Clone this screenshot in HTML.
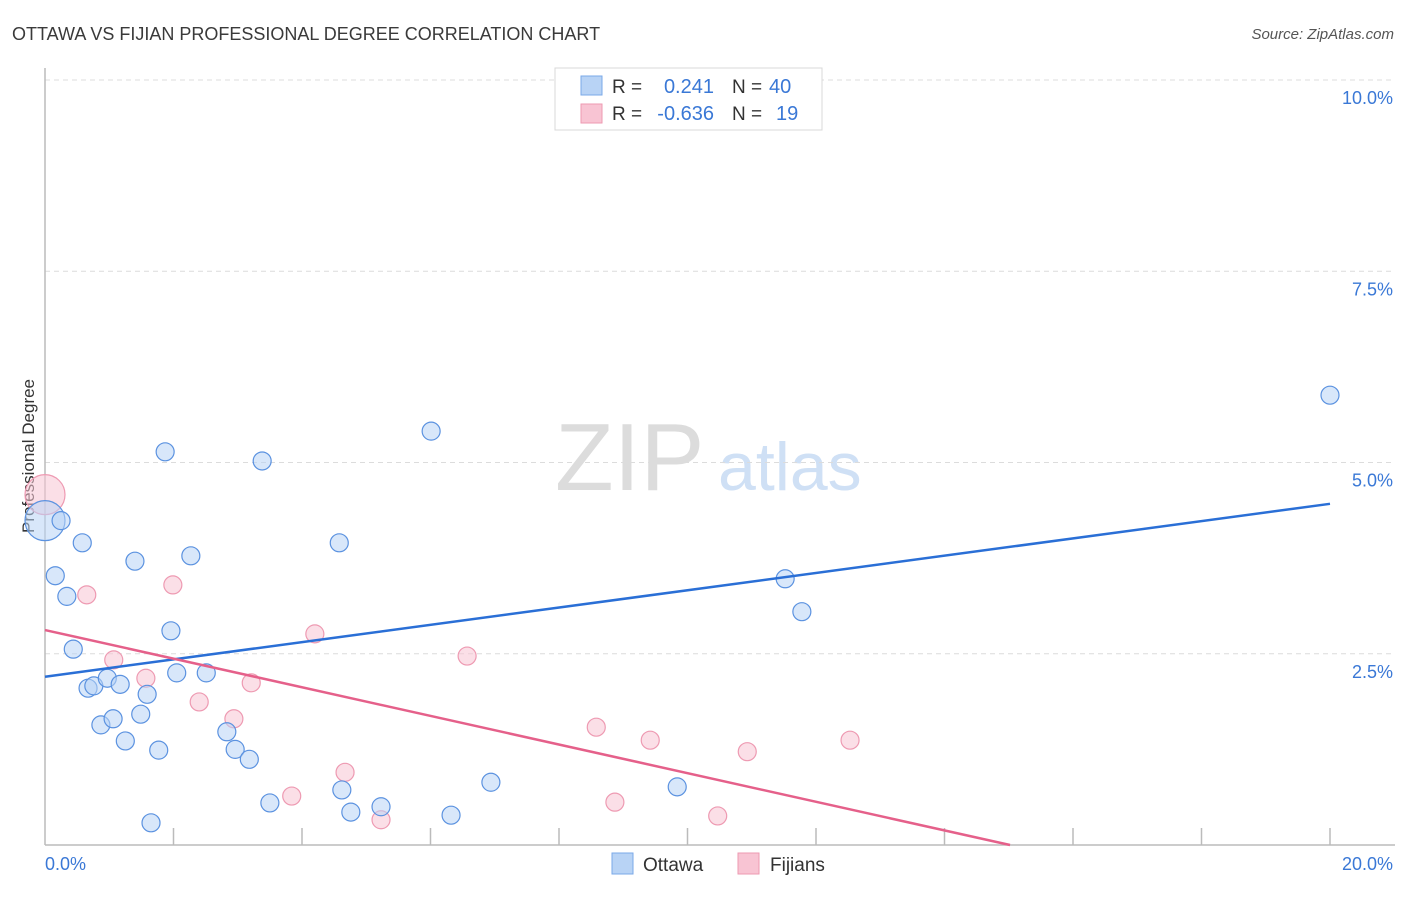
<!DOCTYPE html>
<html><head><meta charset="utf-8"><style>
body{margin:0;background:#fff;font-family:"Liberation Sans",sans-serif}
svg text{font-family:"Liberation Sans",sans-serif}
</style></head><body>
<svg id="chart" width="1406" height="892" viewBox="0 0 1406 892" xmlns="http://www.w3.org/2000/svg">
<text x="12" y="40" font-size="18" fill="#3a3a3a">OTTAWA VS FIJIAN PROFESSIONAL DEGREE CORRELATION CHART</text>
<text x="1394" y="39" font-size="15" fill="#555" text-anchor="end" font-style="italic">Source: ZipAtlas.com</text>
<text x="555" y="490" font-size="96" fill="#dcdcdc" font-family="Liberation Serif,serif">ZIP</text>
<text x="718" y="490" font-size="68" fill="#cfe0f5">atlas</text>
<g id="grid"></g>
<g id="axes"></g>
<text transform="translate(34,456) rotate(-90)" font-size="17" fill="#333" text-anchor="middle">Professional Degree</text>
<g id="marks"></g>
<g>
<rect x="555" y="68" width="267" height="62" fill="#fff" stroke="#d8d8d8"/>
<rect x="581" y="76" width="21" height="19" fill="#b8d3f5" stroke="#7aa8e8"/>
<rect x="581" y="104" width="21" height="19" fill="#f8c4d3" stroke="#ee9ab2"/>
<text x="612" y="93" font-size="19" fill="#333">R =</text>
<text x="714" y="93" font-size="20" fill="#3a78d6" text-anchor="end">0.241</text>
<text x="732" y="93" font-size="19" fill="#333">N =</text>
<text x="769" y="93" font-size="20" fill="#3a78d6">40</text>
<text x="612" y="120" font-size="19" fill="#333">R =</text>
<text x="714" y="120" font-size="20" fill="#3a78d6" text-anchor="end">-0.636</text>
<text x="732" y="120" font-size="19" fill="#333">N =</text>
<text x="776" y="120" font-size="20" fill="#3a78d6">19</text>
</g>
<g>
<rect x="612" y="853" width="21" height="21" fill="#b8d3f5" stroke="#7aa8e8"/>
<text x="643" y="871" font-size="19" fill="#333">Ottawa</text>
<rect x="738" y="853" width="21" height="21" fill="#f8c4d3" stroke="#ee9ab2"/>
<text x="770" y="871" font-size="19" fill="#333">Fijians</text>
</g>
</svg>
<script>
const xTicks=[0,2,4,6,8,10,12,14,16,18,20];
const yTicks=[2.5,5,7.5,10];
const yTickLabels=["2.5%","5.0%","7.5%","10.0%"];
const ottawaX=[0,0.25,0.58,0.16,0.34,0.44,0.67,0.76,0.97,1.17,1.59,0.87,1.06,1.49,1.25,1.77,1.65,1.87,1.40,2.27,1.96,2.05,2.51,2.83,2.96,3.18,3.38,3.50,4.58,4.62,4.76,5.23,6.01,6.32,6.94,9.84,11.52,11.78,20.0,8.33];
const ottawaY=[4.24,4.24,3.95,3.52,3.25,2.56,2.05,2.08,2.18,2.10,1.97,1.57,1.65,1.71,1.36,1.24,0.29,5.14,3.71,3.78,2.80,2.25,2.25,1.48,1.25,1.12,5.02,0.55,3.95,0.72,0.43,0.50,5.41,0.39,0.82,0.76,3.48,3.05,5.88,9.53];
const ottawaBig=[0];
const fijiX=[0,0.65,1.07,1.57,1.99,2.40,3.21,2.94,3.84,4.20,4.67,5.23,6.57,8.58,8.87,9.42,10.47,10.93,12.53];
const fijiY=[4.58,3.27,2.42,2.18,3.40,1.87,2.12,1.65,0.64,2.76,0.95,0.33,2.47,1.54,0.56,1.37,0.38,1.22,1.37];
const fijiBig=[0];
const ottawaTrend=[[0,2.20],[20,4.46]];
const fijiTrend=[[0,2.81],[15.02,0]];
const NS="http://www.w3.org/2000/svg";
const X0=45,X1=1330,Y0=845,YPX=76.5;
function sx(v){return X0+(X1-X0)*v/20;}
function sy(v){return Y0-v*YPX;}
function mk(tag,attrs,parent){const e=document.createElementNS(NS,tag);for(const k in attrs)e.setAttribute(k,attrs[k]);parent.appendChild(e);return e;}
const grid=document.getElementById('grid'),axes=document.getElementById('axes'),marks=document.getElementById('marks');
yTicks.forEach((t,i)=>{
 const l=mk('line',{x1:X0,x2:1395,y1:sy(t),y2:sy(t),stroke:'#dcdcdc','stroke-dasharray':'5,4'},grid);
 
 
 const tx=mk('text',{x:1393,y:sy(t)+24,'font-size':18,fill:'#3a78d6','text-anchor':'end'},axes);
 tx.textContent=yTickLabels[i];
 
 
});
let a=mk('line',{x1:X0,x2:X0,y1:68,y2:Y0,stroke:'#bbb','stroke-width':1.5},axes);


a=mk('line',{x1:X0,x2:1395,y1:Y0,y2:Y0,stroke:'#bbb','stroke-width':1.5},axes);


xTicks.forEach(t=>{
 if(t===0)return;
 const l=mk('line',{x1:sx(t),x2:sx(t),y1:828,y2:Y0,stroke:'#bbb','stroke-width':1.5},axes);
 
 
});
let t0=mk('text',{x:45,y:870,'font-size':18,fill:'#3a78d6'},axes);t0.textContent=xTicks[0].toFixed(1)+'%';


let t1=mk('text',{x:1393,y:870,'font-size':18,fill:'#3a78d6','text-anchor':'end'},axes);t1.textContent=xTicks[xTicks.length-1].toFixed(1)+'%';


function pts(xs,ys,big,fill,stroke,name){
 xs.forEach((x,i)=>{
  const r=big.includes(i)?20:9;
  const c=mk('circle',{cx:sx(x),cy:sy(ys[i]),r:r,fill:fill,'fill-opacity':0.55,stroke:stroke,'stroke-width':1.2},marks);
  
  
 });
}
pts(fijiX,fijiY,fijiBig,'#f8c4d3','#ee9ab2','fijians-point');
pts(ottawaX,ottawaY,ottawaBig,'#b8d3f5','#5b92e0','ottawa-point');
let tl=mk('line',{x1:sx(ottawaTrend[0][0]),y1:sy(ottawaTrend[0][1]),x2:sx(ottawaTrend[1][0]),y2:sy(ottawaTrend[1][1]),stroke:'#2a6fd6','stroke-width':2.5},marks);


tl=mk('line',{x1:sx(fijiTrend[0][0]),y1:sy(fijiTrend[0][1]),x2:sx(fijiTrend[1][0]),y2:sy(fijiTrend[1][1]),stroke:'#e5608a','stroke-width':2.5},marks);


</script>
</body></html>
